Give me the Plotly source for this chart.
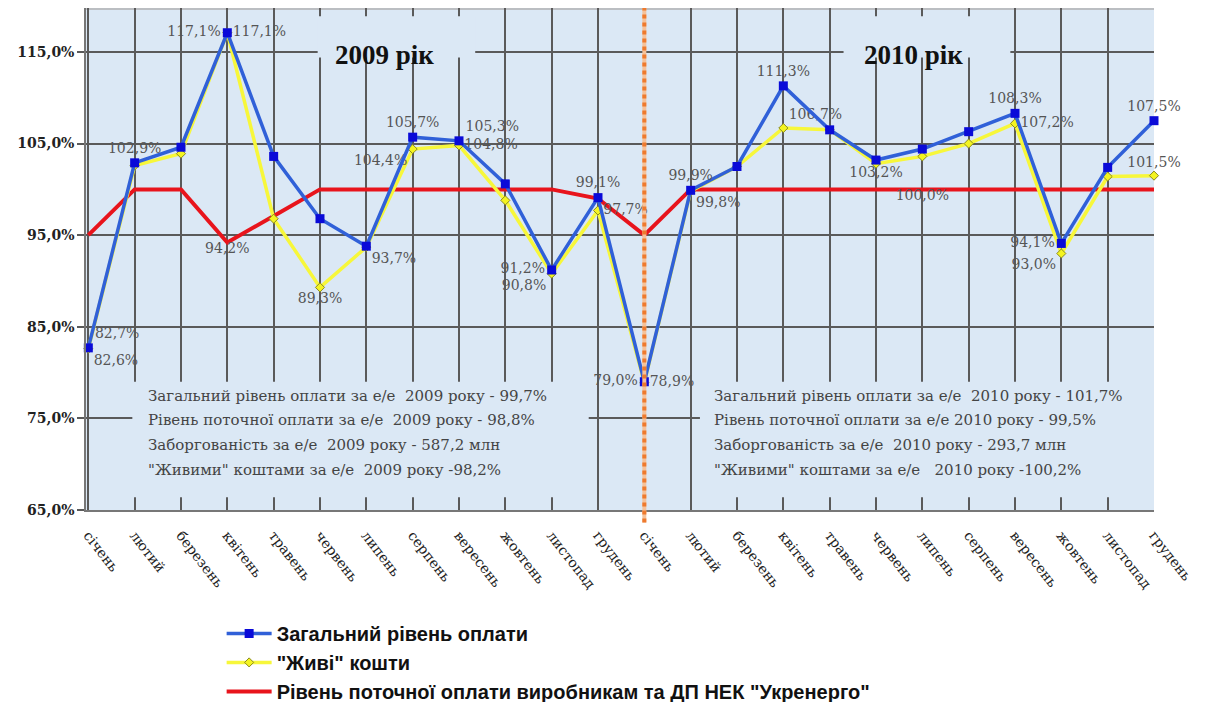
import plotly.graph_objects as go

# ---------------- data ----------------
months = ["січень", "лютий", "березень", "квітень", "травень", "червень",
          "липень", "серпень", "вересень", "жовтень", "листопад", "грудень"]
tick_labels = months + months

total_payment = [82.7, 102.9, 104.6, 117.1, 103.6, 96.8, 93.8, 105.7, 105.3, 100.6, 91.2, 99.1,
                 79.0, 99.9, 102.5, 111.3, 106.5, 103.2, 104.4, 106.3, 108.3, 94.1, 102.4, 107.5]
live_money = [82.6, 102.6, 103.9, 117.1, 96.8, 89.3, 93.7, 104.4, 104.8, 98.8, 90.8, 97.7,
              78.9, 99.8, 102.5, 106.7, 106.5, 102.8, 103.6, 105.0, 107.2, 93.0, 101.4, 101.5]
current_level = [95.0, 100.0, 100.0, 94.2, 97.1, 100.0, 100.0, 100.0, 100.0, 100.0, 100.0, 99.0,
                 95.0, 100.0, 100.0, 100.0, 100.0, 100.0, 100.0, 100.0, 100.0, 100.0, 100.0, 100.0]

# indices that carry a value label
total_label_idx = [0, 1, 3, 7, 8, 10, 11, 12, 13, 15, 17, 20, 21, 23]
live_label_idx = [0, 3, 5, 6, 7, 8, 10, 11, 12, 13, 15, 20, 21, 23]
current_label_idx = [3, 18]

y_ticks = [65, 75, 85, 95, 105, 115]
y_tick_text = ["65,0%", "75,0%", "85,0%", "95,0%", "105,0%", "115,0%"]

series_names = ["Загальний рівень оплати", "\"Живі\" кошти",
                "Рівень поточної оплати виробникам та ДП НЕК \"Укренерго\""]
year_titles = ["2009 рік", "2010 рік"]
summary_2009 = ["Загальний рівень оплати за е/е  2009 року - 99,7%",
                "Рівень поточної оплати за е/е  2009 року - 98,8%",
                "Заборгованість за е/е  2009 року - 587,2 млн",
                "\"Живими\" коштами за е/е  2009 року -98,2%"]
summary_2010 = ["Загальний рівень оплати за е/е  2010 року - 101,7%",
                "Рівень поточної оплати за е/е 2010 року - 99,5%",
                "Заборгованість за е/е  2010 року - 293,7 млн",
                "\"Живими\" коштами за е/е   2010 року -100,2%"]

# ---------------- helpers ----------------
x_idx = list(range(len(tick_labels)))


def fmt(v):
    return f"{v:.1f}%".replace(".", ",")


def labels(values, idx):
    return [fmt(v) if i in idx else "" for i, v in enumerate(values)]


total_pos = {0: "top right", 1: "top center", 3: "middle left", 7: "top center",
             8: "top right", 10: "middle left", 11: "top center", 12: "middle left",
             13: "top center", 15: "top center", 17: "bottom center", 20: "top center",
             21: "middle left", 23: "top center"}
live_pos = {0: "bottom right", 3: "middle right", 5: "bottom center", 6: "bottom right",
            7: "bottom left", 8: "middle right", 10: "bottom left", 11: "middle right",
            12: "middle right", 13: "bottom right", 15: "top right", 20: "middle right",
            21: "bottom left", 23: "top center"}
current_pos = {3: "bottom center", 18: "bottom center"}


def positions(pos):
    return [pos.get(i, "top center") for i in x_idx]


BG = "#dbe8f5"
GRID = "#5a5a5a"
LABEL_FONT = dict(family="DejaVu Serif", size=14, color="#555555")

fig = go.Figure()

fig.add_trace(go.Scatter(
    x=x_idx, y=current_level, name=series_names[2], mode="lines+text",
    line=dict(color="#e8141c", width=4),
    text=labels(current_level, current_label_idx), textposition=positions(current_pos),
    textfont=LABEL_FONT, legendrank=3, cliponaxis=False))

fig.add_trace(go.Scatter(
    x=x_idx, y=live_money, name=series_names[1], mode="lines+markers+text",
    line=dict(color="#f7f73a", width=3.5),
    marker=dict(symbol="diamond", size=7, color="#f4f420", line=dict(color="#8a8a20", width=1)),
    text=labels(live_money, live_label_idx), textposition=positions(live_pos),
    textfont=LABEL_FONT, legendrank=2, cliponaxis=False))

fig.add_trace(go.Scatter(
    x=x_idx, y=total_payment, name=series_names[0], mode="lines+markers+text",
    line=dict(color="#3060d8", width=3.5),
    marker=dict(symbol="square", size=9, color="#0a0ad8"),
    text=labels(total_payment, total_label_idx), textposition=positions(total_pos),
    textfont=LABEL_FONT, legendrank=1, cliponaxis=False))

# year divider (January 2010)
fig.add_shape(type="line", x0=12, x1=12, xref="x", yref="paper", y0=-0.025, y1=1,
              line=dict(color="#f5c29a", width=4), layer="above")
fig.add_shape(type="line", x0=12, x1=12, xref="x", yref="paper", y0=-0.025, y1=1,
              line=dict(color="#ee7a2e", width=4, dash="dot"), layer="above")

# top border
fig.add_shape(type="line", xref="paper", yref="paper", x0=0, x1=1, y0=0.998, y1=0.998,
              line=dict(color="#b0b0b0", width=1.5), layer="between")

# boxes behind the texts (hide gridlines)
fig.add_shape(type="rect", xref="x", yref="y", x0=0.95, x1=10.8, y0=66.4, y1=79.0,
              fillcolor=BG, line=dict(width=0), layer="between")
fig.add_shape(type="rect", xref="x", yref="y", x0=13.2, x1=23.0, y0=66.4, y1=79.0,
              fillcolor=BG, line=dict(width=0), layer="between")
fig.add_shape(type="rect", xref="x", yref="y", x0=4.95, x1=8.35, y0=114.4, y1=118.9,
              fillcolor=BG, line=dict(width=0), layer="between")
fig.add_shape(type="rect", xref="x", yref="y", x0=16.3, x1=19.9, y0=114.4, y1=118.9,
              fillcolor=BG, line=dict(width=0), layer="between")

fig.add_annotation(x=6.4, y=114.7, xref="x", yref="y", text="<b>" + year_titles[0] + "</b>",
                   showarrow=False, font=dict(family="Liberation Serif", size=27, color="#111111"))
fig.add_annotation(x=17.8, y=114.7, xref="x", yref="y", text="<b>" + year_titles[1] + "</b>",
                   showarrow=False, font=dict(family="Liberation Serif", size=27, color="#111111"))

line_y = [77.4, 74.8, 72.1, 69.4]
for txt, yy in zip(summary_2009, line_y):
    fig.add_annotation(x=1.25, y=yy, xref="x", yref="y", text=txt, showarrow=False,
                       xanchor="left", font=dict(family="DejaVu Serif", size=15, color="#444444"))
for txt, yy in zip(summary_2010, line_y):
    fig.add_annotation(x=13.45, y=yy, xref="x", yref="y", text=txt, showarrow=False,
                       xanchor="left", font=dict(family="DejaVu Serif", size=15, color="#444444"))

fig.update_layout(
    width=1211, height=694,
    margin=dict(l=78, r=65, t=0, b=192, autoexpand=False),
    paper_bgcolor="white", plot_bgcolor=BG,
    showlegend=True,
    legend=dict(x=0.127, y=-0.207, xanchor="left", yanchor="top", orientation="v",
                font=dict(family="Liberation Sans", size=20, color="#111111", weight="bold"),
                bgcolor="rgba(0,0,0,0)", itemwidth=45, tracegroupgap=0, traceorder="normal"),
    xaxis=dict(range=[-0.05, 23.0], tickmode="array", tickvals=x_idx, ticktext=tick_labels,
               tickangle=52, showgrid=True, gridcolor=GRID, gridwidth=1.5,
               showline=True, linecolor="#777777", linewidth=1.5,
               ticks="", ticklabelstandoff=10,
               tickfont=dict(family="DejaVu Serif", size=14, color="#222222"),
               zeroline=False, automargin=False),
    yaxis=dict(range=[65, 119.8], tickmode="array", tickvals=y_ticks, ticktext=y_tick_text,
               showgrid=True, gridcolor=GRID, gridwidth=1.5,
               showline=True, linecolor="#777777", linewidth=1.5,
               ticks="outside", ticklen=7, tickcolor=GRID, tickwidth=1.5,
               tickfont=dict(family="DejaVu Serif", size=14, color="#222222", weight="bold"),
               zeroline=False, mirror=False, automargin=False),
)

fig.write_html("out.html")
